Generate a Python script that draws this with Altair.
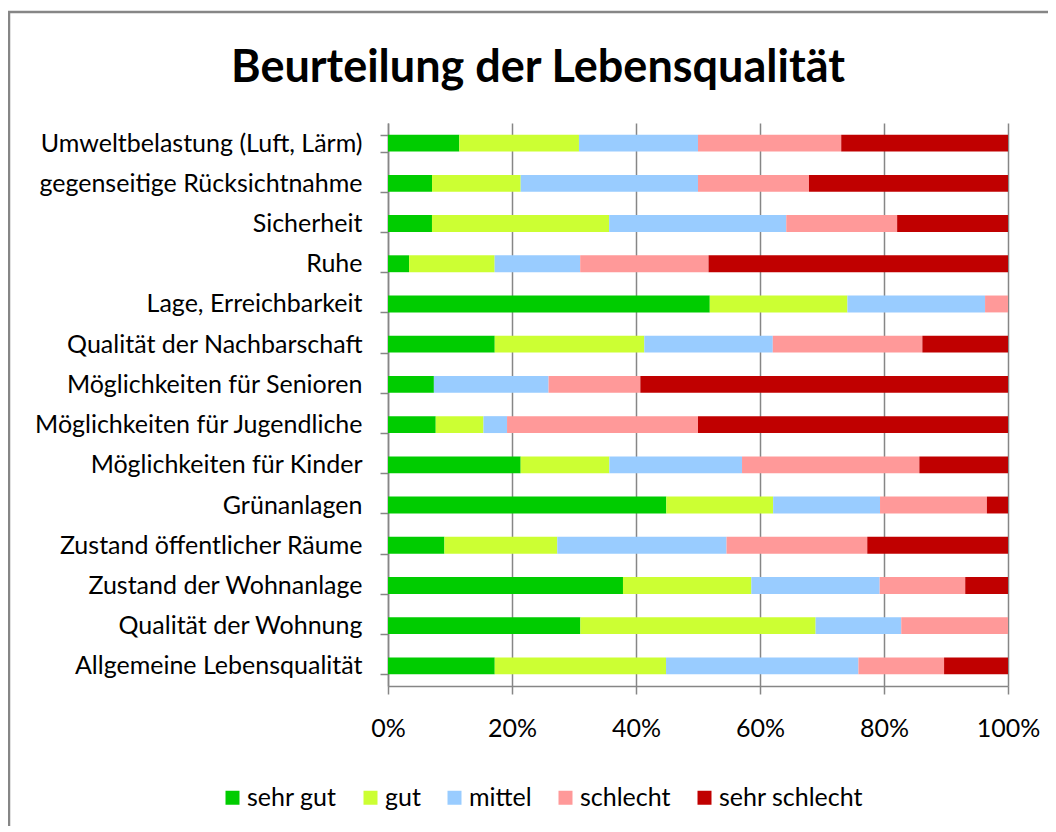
import altair as alt
import pandas as pd

title_text = "Beurteilung der Lebensqualität"
categories = [
    "Umweltbelastung (Luft, Lärm)",
    "gegenseitige Rücksichtnahme",
    "Sicherheit",
    "Ruhe",
    "Lage, Erreichbarkeit",
    "Qualität der Nachbarschaft",
    "Möglichkeiten für Senioren",
    "Möglichkeiten für Jugendliche",
    "Möglichkeiten für Kinder",
    "Grünanlagen",
    "Zustand öffentlicher Räume",
    "Zustand der Wohnanlage",
    "Qualität der Wohnung",
    "Allgemeine Lebensqualität",
]
ratings = ["sehr gut", "gut", "mittel", "schlecht", "sehr schlecht"]
colors = ["#00CC00", "#CCFF33", "#99CCFF", "#FF9999", "#C00000"]

sehr_gut = [11.5, 7.1, 7.1, 3.4, 51.9, 17.2, 7.4, 7.7, 21.4, 44.8, 9.1, 37.9, 31.0, 17.2]
gut = [19.3, 14.3, 28.6, 13.8, 22.2, 24.1, 0.0, 7.7, 14.3, 17.2, 18.2, 20.7, 37.9, 27.6]
mittel = [19.2, 28.6, 28.6, 13.8, 22.2, 20.7, 18.5, 3.8, 21.4, 17.2, 27.3, 20.7, 13.8, 31.0]
schlecht = [23.1, 17.9, 17.9, 20.7, 3.7, 24.1, 14.8, 30.8, 28.6, 17.2, 22.7, 13.8, 17.2, 13.8]
sehr_schlecht = [26.9, 32.1, 17.9, 48.3, 0.0, 13.8, 59.3, 50.0, 14.3, 3.4, 22.7, 6.9, 0.0, 10.3]

series = [sehr_gut, gut, mittel, schlecht, sehr_schlecht]
rows = []
for r_i, (name, vals) in enumerate(zip(ratings, series)):
    for cat, v in zip(categories, vals):
        rows.append({"Kategorie": cat, "Bewertung": name, "Anteil": v, "ord": r_i})
df = pd.DataFrame(rows)

FONT = "Lato"
GRID = "#868686"
FS = 25

bars = alt.Chart(df).mark_bar().encode(
    x=alt.X(
        "Anteil:Q",
        stack="normalize",
        scale=alt.Scale(domain=[0, 1], nice=False),
        axis=alt.Axis(
            format=".0%",
            values=[0, 0.2, 0.4, 0.6, 0.8, 1.0],
            title=None,
            grid=True,
            gridColor=GRID,
            gridWidth=1.5,
            domainColor=GRID,
            domainWidth=1.5,
            tickColor=GRID,
            tickWidth=1.5,
            tickSize=8,
            labelPadding=22,
            labelFlush=False,
            labelFont=FONT,
            labelFontSize=FS,
            labelColor="#000000",
        ),
    ),
    y=alt.Y(
        "Kategorie:N",
        sort=categories,
        scale=alt.Scale(paddingInner=0.58, paddingOuter=0.29),
        axis=alt.Axis(
            title=None,
            tickBand="extent",
            domainColor=GRID,
            domainWidth=1.5,
            tickColor=GRID,
            tickWidth=1.5,
            tickSize=8,
            labelPadding=18,
            labelFont=FONT,
            labelFontSize=FS,
            labelColor="#000000",
            labelLimit=400,
        ),
    ),
    color=alt.Color(
        "Bewertung:N",
        scale=alt.Scale(domain=ratings, range=colors),
        legend=alt.Legend(
            title=None,
            orient="none",
            direction="horizontal",
            legendX=-168,
            legendY=662,
            symbolType="square",
            symbolSize=196,
            symbolStrokeWidth=0,
            symbolOpacity=1,
            labelFont=FONT,
            labelFontSize=FS,
            labelColor="#000000",
            labelOffset=2,
            columnPadding=21,
            padding=0,
        ),
    ),
    order=alt.Order("ord:Q"),
)

one = pd.DataFrame({"a": [0]})

border = alt.Chart(one).mark_rect(
    fillOpacity=0, stroke=GRID, strokeWidth=2.5
).encode(
    x=alt.value(-379),
    x2=alt.value(900),
    y=alt.value(-111),
    y2=alt.value(900),
)

title = alt.Chart(one).mark_text(
    font=FONT,
    fontSize=45,
    fontWeight="bold",
    color="#000000",
    align="center",
    baseline="alphabetic",
).encode(
    x=alt.value(150),
    y=alt.value(-41),
    text=alt.value(title_text),
)

chart = alt.layer(border, bars, title).properties(
    width=620,
    height=563,
    padding={"left": 380, "top": 115, "right": 40, "bottom": 140},
    autosize=alt.AutoSizeParams(type="none"),
).configure_view(stroke=None)

chart.save("out.html", embed_options={"renderer": "svg", "actions": False})
